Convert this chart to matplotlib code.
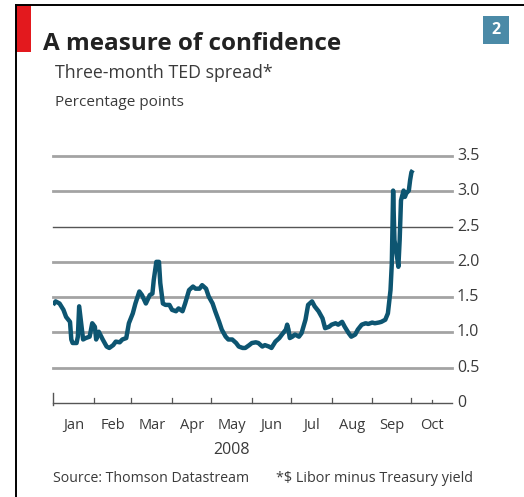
"""A measure of confidence: three-month TED spread, 2008."""

import matplotlib
matplotlib.use("Agg")
import matplotlib.pyplot as plt
from matplotlib.patches import Rectangle

# day offsets from 1 Jan 2008, spread in percentage points
days = [0, 2, 5, 8, 10, 13, 14, 15, 18, 19, 20, 23, 25, 28, 30, 32, 33, 35, 38,
        41, 43, 46, 48, 51, 53, 56, 58, 61, 63, 66, 68, 71, 74, 76, 77, 79, 81,
        82, 84, 86, 89, 91, 94, 96, 99, 101, 104, 107, 109, 112, 114, 117, 119,
        122, 124, 127, 129, 132, 134, 137, 140, 142, 145, 147, 150, 152, 155,
        157, 160, 162, 165, 167, 170, 173, 175, 178, 179, 180, 181, 183, 185,
        188, 190, 193, 195, 198, 200, 203, 206, 208, 211, 213, 216, 218, 221,
        223, 226, 228, 231, 233, 236, 239, 241, 244, 246, 249, 251, 254, 256,
        258, 259, 260, 261, 263, 264, 265, 266, 268, 269, 270, 272, 273, 274, 275]
spread = [1.39, 1.44, 1.41, 1.32, 1.22, 1.15, 0.90, 0.85, 0.85, 0.94, 1.37,
          0.90, 0.92, 0.94, 1.13, 1.08, 0.90, 1.01, 0.90, 0.80, 0.78, 0.82,
          0.87, 0.86, 0.90, 0.92, 1.13, 1.27, 1.41, 1.58, 1.53, 1.41, 1.53,
          1.55, 1.74, 2.00, 2.00, 1.70, 1.41, 1.39, 1.39, 1.32, 1.30, 1.34,
          1.30, 1.41, 1.60, 1.65, 1.62, 1.62, 1.67, 1.62, 1.51, 1.41, 1.30,
          1.15, 1.04, 0.94, 0.90, 0.90, 0.85, 0.80, 0.78, 0.78, 0.82, 0.85,
          0.86, 0.85, 0.80, 0.82, 0.80, 0.78, 0.87, 0.92, 0.97, 1.04, 1.11,
          1.04, 0.92, 0.94, 0.97, 0.94, 0.99, 1.18, 1.39, 1.44, 1.37, 1.30,
          1.20, 1.06, 1.08, 1.11, 1.13, 1.11, 1.15, 1.08, 0.99, 0.94, 0.97,
          1.04, 1.11, 1.13, 1.12, 1.14, 1.13, 1.14, 1.15, 1.18, 1.27, 1.60,
          1.98, 3.01, 2.31, 2.07, 1.93, 2.31, 2.87, 3.01, 2.92, 2.97, 3.01,
          3.16, 3.27, 3.30]

month_labels = ["Jan", "Feb", "Mar", "Apr", "May", "Jun", "Jul", "Aug", "Sep", "Oct"]
month_starts = [0, 31, 60, 91, 121, 152, 182, 213, 244, 274, 305]
y_ticks = [0, 0.5, 1.0, 1.5, 2.0, 2.5, 3.0, 3.5]
y_tick_labels = ["0", "0.5", "1.0", "1.5", "2.0", "2.5", "3.0", "3.5"]

W, H = 524, 497
FONT = ["Open Sans", "DejaVu Sans"]
LINE = "#0d5571"
GRID = "#a3a3a3"
TEXT = "#3a3a3a"


def px(x, y):
    return x / W, 1 - y / H


fig = plt.figure(figsize=(W / 100, H / 100), dpi=100)
fig.patch.set_facecolor("white")

# frame: top rule and left rule, red tab, panel number
fig.add_artist(plt.Line2D([15.5 / W, 1], [1 - 5 / H, 1 - 5 / H], color="black", lw=1.4))
fig.add_artist(plt.Line2D([15.5 / W, 15.5 / W], [0, 1 - 5 / H], color="black", lw=1.4))
fig.add_artist(Rectangle(px(16, 52), 15 / W, 47 / H, color="#e3191e", lw=0))
fig.add_artist(Rectangle(px(483, 44), 26 / W, 28 / H, color="#4b8aa7", lw=0))
fig.text(*px(496, 30), "2", color="white", fontsize=11.5, fontweight="bold",
         ha="center", va="center", family=FONT)

fig.text(*px(43, 44), "A measure of confidence", fontsize=17.5, fontweight="bold",
         color="#222222", ha="left", va="center", family=FONT)
fig.text(*px(55, 73), "Three-month TED spread*", fontsize=12.8, color=TEXT,
         ha="left", va="center", family=FONT)
fig.text(*px(55, 103), "Percentage points", fontsize=11, color=TEXT,
         ha="left", va="center", family=FONT)

ax = fig.add_axes([53 / W, 1 - 403 / H, 399 / W, 247 / H])
ax.set_xlim(month_starts[0], month_starts[-1])
ax.set_ylim(0, 3.5)
for s in ax.spines.values():
    s.set_visible(False)
ax.set_xticks([])
ax.set_yticks([])

for v in y_ticks[1:]:
    if v == 2.5:
        ax.axhline(v, color="#555555", lw=1.0, zorder=1, clip_on=False)
    else:
        ax.axhline(v, color=GRID, lw=2.0, zorder=1, clip_on=False)
ax.axhline(0, color="#555555", lw=1.0, zorder=1, clip_on=False)

# month ticks on the zero line
for d in month_starts[1:-1]:
    ax.plot([d, d], [0, 0.07], color="#555555", lw=0.9, clip_on=False)
ax.plot([0, 0], [-0.03, 0.14], color="#555555", lw=1.0, clip_on=False)
ax.plot([290, 290], [0, 0.04], color="#555555", lw=0.9, clip_on=False)

ax.plot(days, spread, color=LINE, lw=3.2, solid_joinstyle="round",
        solid_capstyle="butt", zorder=3)

for v, lab in zip(y_ticks, y_tick_labels):
    fig.text(457 / W, 1 - (403 - v * 247 / 3.5) / H, lab, ha="left",
             va="center", fontsize=11.5, color=TEXT, family=FONT)

for i, lab in enumerate(month_labels):
    mid = (month_starts[i] + month_starts[i + 1]) / 2
    ax.text(mid, -0.32, lab, ha="center", va="center", fontsize=10.5,
            color=TEXT, family=FONT)
fig.text(*px(232, 450), "2008", ha="center", va="center", fontsize=11.5,
         color=TEXT, family=FONT)

fig.text(*px(53, 479), "Source: Thomson Datastream", ha="left", va="center",
         fontsize=10.2, color=TEXT, family=FONT)
fig.text(*px(276, 479), "*$ Libor minus Treasury yield", ha="left", va="center",
         fontsize=10.4, color=TEXT, family=FONT)

fig.savefig("out.png", dpi=100, facecolor="white")
